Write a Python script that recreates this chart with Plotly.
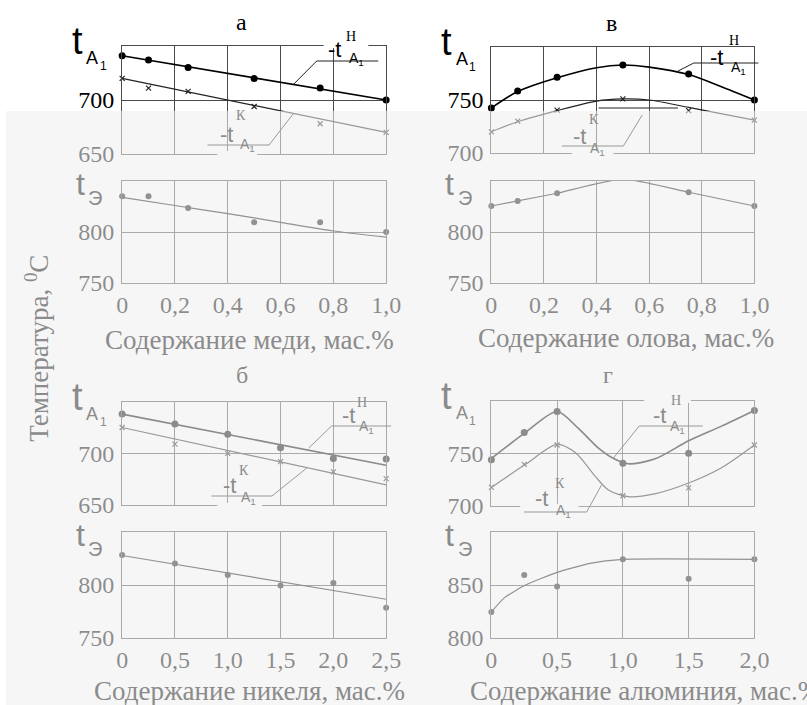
import plotly.graph_objects as go

W, H = 807, 705          # reference picture size (all positions below are in its pixels)
FIG_W, FIG_H = 822, 718  # page is shown slightly reduced; this fills the picture

# ---------------- data ----------------
# а) copper
cu_x = [0, 0.1, 0.25, 0.5, 0.75, 1.0]
cu_tH = [741, 737, 730, 720, 711, 700]
cu_tK = [720, 711, 708, 694, 678, 670]
cu_tE = [835, 835, 823.5, 809.5, 809.5, 800]
cu_fit_x = [0, 1.0]
cu_tH_fit = [741, 700]
cu_tK_fit = [720, 670]
cu_tE_fit_x = [0, 0.2, 0.4, 0.6, 0.8, 1.0]
cu_tE_fit = [834, 826, 818, 809.5, 801, 795]

# в) tin
sn_x = [0, 0.1, 0.25, 0.5, 0.75, 1.0]
sn_tH = [742.5, 758.5, 771.5, 783, 774.5, 750]
sn_tK = [720, 730, 740.5, 751, 740, 731]
sn_tE = [825.5, 830.5, 838, 852, 839, 825.5]
sn_tH_fit_x = [0, 0.1, 0.25, 0.4, 0.5, 0.6, 0.75, 0.87, 1.0]
sn_tH_fit = [742.5, 758, 771, 780.5, 783, 781, 774, 763, 750]
sn_tK_fit_x = [0, 0.1, 0.25, 0.4, 0.5, 0.6, 0.75, 1.0]
sn_tK_fit = [720, 729.5, 740, 749, 751, 750, 743, 731]
sn_tE_fit_x = sn_x
sn_tE_fit = sn_tE

# б) nickel
ni_x = [0, 0.5, 1.0, 1.5, 2.0, 2.5]
ni_tH = [738, 728.5, 718.5, 705.5, 695, 694.5]
ni_tK = [725, 709, 700, 692, 682, 675.5]
ni_tE = [828.5, 820.5, 809.5, 799.5, 802, 778.5]
ni_fit_x = [0, 2.5]
ni_tH_fit = [738, 688.5]
ni_tK_fit = [725, 669.5]
ni_tE_fit = [828, 786.5]

# г) aluminium
al_x = [0, 0.25, 0.5, 1.0, 1.5, 2.0]
al_tH = [744, 770, 790, 740.5, 750, 791]
al_tK = [717.5, 739.5, 758, 709.5, 717, 758]
al_tE = [824.5, 859.5, 848.5, 874.5, 856, 874.5]
al_tH_fit_x = [0, 0.26, 0.5, 0.66, 0.81, 0.93, 1.04, 1.24, 1.5, 1.75, 2.0]
al_tH_fit = [745, 770, 790, 774, 755.5, 745, 740, 744.5, 762, 776, 791]
al_tK_fit_x = [0, 0.26, 0.5, 0.64, 0.79, 0.89, 1.04, 1.24, 1.5, 1.75, 2.0]
al_tK_fit = [717.5, 739.5, 758.5, 750.5, 728, 715, 708.7, 711.3, 721.7, 736.3, 758]
al_tE_fit_x = [0, 0.1, 0.26, 0.5, 0.75, 1.0, 2.0]
al_tE_fit = [824.4, 838, 850, 862, 870.5, 874.3, 874.3]

# ticks
cu_ticks = [0, 0.2, 0.4, 0.6, 0.8, 1.0]
cu_ticktext = ["0", "0,2", "0,4", "0,6", "0,8", "1,0"]
ni_ticks = [0, 0.5, 1.0, 1.5, 2.0, 2.5]
ni_ticktext = ["0", "0,5", "1,0", "1,5", "2,0", "2,5"]
al_ticks = [0, 0.5, 1.0, 1.5, 2.0]
al_ticktext = ["0", "0,5", "1,0", "1,5", "2,0"]

panel_letters = ["а", "в", "б", "г"]
x_titles = ["Содержание меди, мас.%", "Содержание олова, мас.%",
            "Содержание никеля, мас.%", "Содержание алюминия, мас.%"]
y_title = "Температура, <sup>0</sup>С"

# ---------------- layout helpers ----------------
SERIF = "Liberation Serif"
SANS = "Liberation Sans"
GRID = "#4a4a4a"
BAND_Y = 111           # the scanned page gets lighter below this row
GRAY_TXT = "#8b8b8b"


def px(x):
    return x / W


def py(y):
    return 1 - y / H


def col(y):
    return "#000000" if y < BAND_Y else GRAY_TXT


panels = [
    dict(L=117, R=383, xr=(0, 1), xt=cu_ticks, xtt=cu_ticktext,
         up=(46, 154, (650, 750), [650, 700]), lo=(181, 283, (750, 850), [750, 800]),
         x=cu_x, tH=cu_tH, tK=cu_tK, tE=cu_tE,
         tHf=(cu_fit_x, cu_tH_fit), tKf=(cu_fit_x, cu_tK_fit), tEf=(cu_tE_fit_x, cu_tE_fit),
         title=(237, 22), xtitle=(245, 340)),
    dict(L=489, R=754, xr=(0, 1), xt=cu_ticks, xtt=cu_ticktext,
         up=(47, 153, (700, 800), [700, 750]), lo=(181, 283, (750, 850), [750, 800]),
         x=sn_x, tH=sn_tH, tK=sn_tK, tE=sn_tE,
         tHf=(sn_tH_fit_x, sn_tH_fit), tKf=(sn_tK_fit_x, sn_tK_fit), tEf=(sn_tE_fit_x, sn_tE_fit),
         title=(610, 23), xtitle=(625, 338)),
    dict(L=117, R=383, xr=(0, 2.5), xt=ni_ticks, xtt=ni_ticktext,
         up=(401.7, 505, (650, 750), [650, 700]), lo=(532.3, 637.7, (750, 850), [750, 800]),
         x=ni_x, tH=ni_tH, tK=ni_tK, tE=ni_tE,
         tHf=(ni_fit_x, ni_tH_fit), tKf=(ni_fit_x, ni_tK_fit), tEf=(ni_fit_x, ni_tE_fit),
         title=(238, 375), xtitle=(245, 691)),
    dict(L=489, R=754, xr=(0, 2.0), xt=al_ticks, xtt=al_ticktext,
         up=(401, 505.7, (700, 800), [700, 750]), lo=(532.3, 637.7, (800, 900), [800, 850]),
         x=al_x, tH=al_tH, tK=al_tK, tE=al_tE,
         tHf=(al_tH_fit_x, al_tH_fit), tKf=(al_tK_fit_x, al_tK_fit), tEf=(al_tE_fit_x, al_tE_fit),
         title=(607, 375), xtitle=(644, 691)),
]

fig = go.Figure()
layout = dict(width=FIG_W, height=FIG_H, margin=dict(l=0, r=0, t=0, b=0),
              paper_bgcolor="white", plot_bgcolor="rgba(0,0,0,0)",
              showlegend=False, autosize=False)
annotations = []
shapes = []


def ann(text, x, y, size, family=SERIF, color=None, bg=None, xanchor="center", angle=0):
    d = dict(text=text, x=px(x), y=py(y), xref="paper", yref="paper",
             showarrow=False, xanchor=xanchor, yanchor="middle",
             font=dict(size=size, family=family, color=color or col(y)),
             textangle=angle, borderpad=0)
    if bg:
        d["bgcolor"] = bg
    annotations.append(d)


for k, p in enumerate(panels):
    for j, (top, bot, yr, yt) in enumerate([p["up"], p["lo"]]):
        idx = 2 * k + j + 1
        sfx = "" if idx == 1 else str(idx)
        layout["xaxis" + sfx] = dict(
            domain=[px(p["L"]), px(p["R"])], range=list(p["xr"]),
            tickvals=p["xt"], ticktext=p["xtt"], showticklabels=(j == 1),
            showgrid=True, gridcolor=GRID, gridwidth=1,
            showline=True, mirror=True, linecolor=GRID, linewidth=1,
            zeroline=False, ticks="", ticklen=0, ticklabelstandoff=0,
            tickfont=dict(family=SERIF, size=24, color="#000"),
            anchor="y" + sfx, fixedrange=True)
        layout["yaxis" + sfx] = dict(
            domain=[py(bot), py(top)], range=list(yr),
            tickvals=yt, ticktext=[str(v) for v in yt],
            showgrid=True, gridcolor=GRID, gridwidth=1,
            showline=True, mirror=True, linecolor=GRID, linewidth=1,
            zeroline=False, ticks="", ticklen=0, ticklabelstandoff=2,
            tickfont=dict(family=SERIF, size=24, color="#000"),
            anchor="x" + sfx, fixedrange=True)
        xa, ya = "x" + sfx, "y" + sfx
        if j == 0:
            fig.add_trace(go.Scatter(x=p["tHf"][0], y=p["tHf"][1], mode="lines",
                                     line=dict(color="#000", width=1.6, shape="spline", smoothing=0.8),
                                     xaxis=xa, yaxis=ya, cliponaxis=False))
            fig.add_trace(go.Scatter(x=p["x"], y=p["tH"], mode="markers",
                                     marker=dict(color="#000", size=7, symbol="circle"),
                                     xaxis=xa, yaxis=ya, cliponaxis=False))
            fig.add_trace(go.Scatter(x=p["tKf"][0], y=p["tKf"][1], mode="lines",
                                     line=dict(color="#222", width=1.2, shape="spline", smoothing=0.8),
                                     xaxis=xa, yaxis=ya, cliponaxis=False))
            fig.add_trace(go.Scatter(x=p["x"], y=p["tK"], mode="markers",
                                     marker=dict(color="#222", size=5, symbol="x-thin",
                                                 line=dict(width=1.2, color="#222")),
                                     xaxis=xa, yaxis=ya, cliponaxis=False))
            # axis label t_A1
            ann("t", p["L"] - 45, top - 5, 38, SANS)
            ann("A", p["L"] - 30, top + 12, 18, SANS, color=col(top))
            ann("1", p["L"] - 19, top + 20, 12, SANS, color=col(top))
        else:
            fig.add_trace(go.Scatter(x=p["tEf"][0], y=p["tEf"][1], mode="lines",
                                     line=dict(color="#111", width=1.2, shape="spline", smoothing=0.5),
                                     xaxis=xa, yaxis=ya, cliponaxis=False))
            fig.add_trace(go.Scatter(x=p["x"], y=p["tE"], mode="markers",
                                     marker=dict(color="#111", size=6, symbol="circle"),
                                     xaxis=xa, yaxis=ya, cliponaxis=False))
            ann("t", p["L"] - 42, top + 3, 32, SANS)
            ann("Э", p["L"] - 27, top + 17, 20, SANS)
    ann(panel_letters[k], p["title"][0], p["title"][1], 24)
    ann(x_titles[k], p["xtitle"][0], p["xtitle"][1], 27, color=GRAY_TXT)

ann(y_title, 31, 348, 27, color=GRAY_TXT, angle=-90)

# curve labels: -t^Н_A1 / -t^К_A1 with leader lines
labels = [
    # (sup, t_pos, sup_pos, A_pos, leader polyline)
    ("Н", (331, 50), (348, 37), (350, 58), [(290, 84), (313, 61), (375, 61)]),
    ("К", (222, 135), (237, 115), (240, 144), [(203, 145), (265, 145), (290, 113)]),
    ("Н", (716, 57), (733, 41), (735, 67), [(677, 71), (693, 63), (758, 63)]),
    ("К", (578, 136), (592, 119), (593, 148), [(560, 146), (622, 146), (641, 115)]),
    ("Н", (345, 415), (359, 402), (360, 426), [(305, 448), (328, 426), (388, 426)]),
    ("К", (225, 485), (240, 470), (241, 497), [(207, 496), (268, 496), (303, 468)]),
    ("Н", (658, 415), (675, 400), (674, 426), [(612, 458), (638, 426), (702, 426)]),
    ("К", (540, 498), (558, 483), (559, 510), [(522, 512), (585, 512), (600, 485)]),
]
extra_lines = [[(597, 108), (677, 108)]]
gaps = [(213, 253, 153), (570, 612, 153), (643, 690, 401), (213, 258, 505), (518, 577, 505.7),
        (320, 365, 46)]

for (x0, x1, yy) in gaps:
    shapes.append(dict(type="rect", xref="paper", yref="paper", layer="above",
                       x0=px(x0), x1=px(x1), y0=py(yy + 2), y1=py(yy - 2),
                       fillcolor="white", line=dict(width=0)))

for sup, tpos, spos, apos, poly in labels:
    path = "M " + " L ".join(f"{px(a)},{py(b)}" for a, b in poly)
    shapes.append(dict(type="path", xref="paper", yref="paper", layer="above",
                       path=path, line=dict(color="#222", width=1)))
    ann("-t", tpos[0], tpos[1], 22, SANS)
    ann(sup, spos[0], spos[1], 14, SERIF)
    ann("A<sub>1</sub>", apos[0] + 3, apos[1] + 1, 14, SANS, color=col(apos[1]))

for poly in extra_lines:
    path = "M " + " L ".join(f"{px(a)},{py(b)}" for a, b in poly)
    shapes.append(dict(type="path", xref="paper", yref="paper", layer="above",
                       path=path, line=dict(color="#222", width=1)))

# scanned page: lighter lower part
shapes.append(dict(type="rect", xref="paper", yref="paper", layer="above",
                   x0=0, x1=1, y0=0, y1=py(BAND_Y),
                   fillcolor="rgb(240,240,240)", opacity=0.58, line=dict(width=0)))

layout["annotations"] = annotations
layout["shapes"] = shapes
fig.update_layout(**layout)

# page without margins; text running past the figure edge is clipped (as in the scan)
POST = (
    "document.body.style.margin='0';"
    "document.documentElement.style.overflow='hidden';"
    "document.body.style.overflow='hidden';"
    "var els=document.querySelectorAll('.plotly-graph-div, .svg-container, .main-svg');"
    "for(var i=0;i<els.length;i++){els[i].style.overflow='hidden';}"
)
fig.write_html("out.html", config={"displayModeBar": False}, post_script=POST)
